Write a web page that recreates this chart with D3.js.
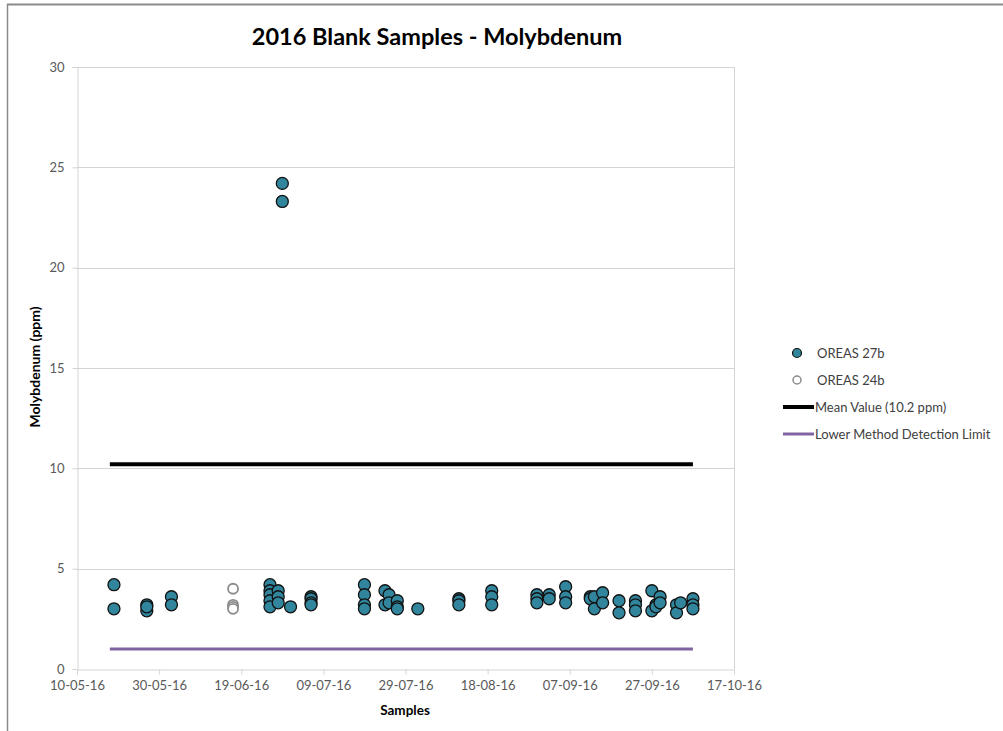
<!DOCTYPE html>
<html>
<head>
<meta charset="utf-8">
<script src="https://cdn.jsdelivr.net/npm/d3@7"></script>
<style>
  html, body { margin: 0; padding: 0; background: #fff; }
  svg { display: block; }
</style>
</head>
<body>
<svg id="chart" width="1003" height="731"></svg>
<script>
// ---- Data ----
const xTickLabels = ["10-05-16","30-05-16","19-06-16","09-07-16","29-07-16","18-08-16","07-09-16","27-09-16","17-10-16"];
const yTickValues = [0, 5, 10, 15, 20, 25, 30];

const oreas27bDates = [
  "19-05-16","19-05-16",
  "27-05-16","27-05-16","27-05-16",
  "02-06-16","02-06-16",
  "26-06-16","26-06-16","26-06-16","26-06-16","26-06-16",
  "28-06-16","28-06-16","28-06-16",
  "29-06-16","29-06-16",
  "01-07-16",
  "06-07-16","06-07-16","06-07-16","06-07-16",
  "19-07-16","19-07-16","19-07-16","19-07-16",
  "24-07-16","24-07-16",
  "25-07-16","25-07-16",
  "27-07-16","27-07-16","27-07-16",
  "01-08-16",
  "11-08-16","11-08-16","11-08-16",
  "19-08-16","19-08-16","19-08-16",
  "30-08-16","30-08-16","30-08-16",
  "02-09-16","02-09-16",
  "06-09-16","06-09-16","06-09-16",
  "12-09-16","12-09-16",
  "13-09-16","13-09-16",
  "15-09-16","15-09-16",
  "19-09-16","19-09-16",
  "23-09-16","23-09-16","23-09-16",
  "27-09-16","27-09-16",
  "28-09-16","28-09-16",
  "29-09-16","29-09-16",
  "03-10-16","03-10-16",
  "04-10-16",
  "07-10-16","07-10-16","07-10-16"
];
const oreas27bValues = [
  4.2, 3.0,
  3.2, 2.9, 3.1,
  3.6, 3.2,
  4.2, 3.9, 3.7, 3.4, 3.1,
  3.9, 3.6, 3.3,
  24.2, 23.3,
  3.1,
  3.6, 3.5, 3.3, 3.2,
  4.2, 3.7, 3.2, 3.0,
  3.9, 3.2,
  3.7, 3.3,
  3.4, 3.1, 3.0,
  3.0,
  3.5, 3.4, 3.2,
  3.9, 3.6, 3.2,
  3.7, 3.5, 3.3,
  3.7, 3.5,
  4.1, 3.6, 3.3,
  3.6, 3.5,
  3.6, 3.0,
  3.8, 3.3,
  3.4, 2.8,
  3.4, 3.2, 2.9,
  3.9, 2.9,
  3.2, 3.1,
  3.6, 3.3,
  3.2, 2.8,
  3.3,
  3.5, 3.2, 3.0
];

const oreas24bDates = ["17-06-16","17-06-16","17-06-16","17-06-16"];
const oreas24bValues = [4.0, 3.2, 3.1, 3.0];

const meanValue = 10.2;
const detectionLimit = 1.0;
const lineStartDate = "18-05-16";
const lineEndDate = "07-10-16";

const legendLabels = ["OREAS 27b", "OREAS 24b", "Mean Value (10.2 ppm)", "Lower Method Detection Limit"];

// ---- Chart ----
const parse = d3.timeParse("%d-%m-%y");
const svg = d3.select("#chart");
const font = "Lato, 'Open Sans', sans-serif";

const plot = { left: 77, right: 734, top: 67, bottom: 669 };

const x = d3.scaleTime()
  .domain([parse(xTickLabels[0]), parse(xTickLabels[xTickLabels.length - 1])])
  .range([plot.left, plot.right]);
const y = d3.scaleLinear().domain([0, 30]).range([plot.bottom, plot.top]);

// outer frame
svg.append("line").attr("x1", 7).attr("x2", 1003).attr("y1", 4.5).attr("y2", 4.5)
  .attr("stroke", "#8a8a8a").attr("stroke-width", 2);
svg.append("line").attr("x1", 7.5).attr("x2", 7.5).attr("y1", 4).attr("y2", 731)
  .attr("stroke", "#8a8a8a").attr("stroke-width", 1.5);

// title
svg.append("text").attr("x", 437).attr("y", 45).attr("text-anchor", "middle")
  .attr("font-family", font).attr("font-weight", "bold").attr("font-size", 23.5)
  .attr("fill", "#000").text("2016 Blank Samples - Molybdenum");

// gridlines
svg.append("g").selectAll("line").data(yTickValues.filter(v => v > 0)).join("line")
  .attr("x1", plot.left).attr("x2", plot.right)
  .attr("y1", d => Math.round(y(d)) + 0.5).attr("y2", d => Math.round(y(d)) + 0.5)
  .attr("stroke", "#d4d4d4").attr("stroke-width", 1);
// right border
svg.append("line").attr("x1", plot.right + 0.5).attr("x2", plot.right + 0.5)
  .attr("y1", plot.top).attr("y2", plot.bottom).attr("stroke", "#d4d4d4");

// y axis
const yAxis = d3.axisLeft(y).tickValues(yTickValues).tickSize(5).tickPadding(8).tickFormat(d3.format("d"));
const gy = svg.append("g").attr("transform", `translate(${plot.left + 0.5},0)`).call(yAxis);
gy.select(".domain").attr("stroke", "#d4d4d4");
gy.selectAll(".tick line").attr("stroke", "#d4d4d4");
gy.selectAll(".tick text").attr("font-family", font).attr("font-size", 13).attr("fill", "#595959");

// x axis
const xAxis = d3.axisBottom(x).tickValues(xTickLabels.map(parse)).tickSize(5).tickPadding(6)
  .tickFormat(d3.timeFormat("%d-%m-%y"));
const gx = svg.append("g").attr("transform", `translate(0,${plot.bottom + 0.5})`).call(xAxis);
gx.select(".domain").attr("stroke", "#d4d4d4");
gx.selectAll(".tick line").attr("stroke", "#d4d4d4");
gx.selectAll(".tick text").attr("font-family", font).attr("font-size", 13).attr("fill", "#595959");

// axis titles
svg.append("text").attr("x", 405).attr("y", 715).attr("text-anchor", "middle")
  .attr("font-family", font).attr("font-weight", "bold").attr("font-size", 13.5)
  .text("Samples");
svg.append("text").attr("transform", "translate(40,367) rotate(-90)").attr("text-anchor", "middle")
  .attr("font-family", font).attr("font-weight", "bold").attr("font-size", 14)
  .text("Molybdenum (ppm)");

// mean & detection lines
svg.append("line")
  .attr("x1", x(parse(lineStartDate))).attr("x2", x(parse(lineEndDate)))
  .attr("y1", y(meanValue)).attr("y2", y(meanValue))
  .attr("stroke", "#000").attr("stroke-width", 4);
svg.append("line")
  .attr("x1", x(parse(lineStartDate))).attr("x2", x(parse(lineEndDate)))
  .attr("y1", y(detectionLimit)).attr("y2", y(detectionLimit))
  .attr("stroke", "#8064A2").attr("stroke-width", 3);

// OREAS 24b points
svg.append("g").selectAll("circle").data(oreas24bDates.map((d, i) => [parse(d), oreas24bValues[i]])).join("circle")
  .attr("cx", d => x(d[0])).attr("cy", d => y(d[1])).attr("r", 5)
  .attr("fill", "#fff").attr("stroke", "#8c8c8c").attr("stroke-width", 1.8);

// OREAS 27b points
svg.append("g").selectAll("circle").data(oreas27bDates.map((d, i) => [parse(d), oreas27bValues[i]])).join("circle")
  .attr("cx", d => x(d[0])).attr("cy", d => y(d[1])).attr("r", 6)
  .attr("fill", "#31859C").attr("stroke", "#111").attr("stroke-width", 1.3);

// legend
const lg = svg.append("g").attr("font-family", font).attr("font-size", 13).attr("fill", "#404040");
lg.append("circle").attr("cx", 797).attr("cy", 353).attr("r", 4.5)
  .attr("fill", "#31859C").attr("stroke", "#111").attr("stroke-width", 1.2);
lg.append("text").attr("x", 817).attr("y", 357.5).text(legendLabels[0]);
lg.append("circle").attr("cx", 797).attr("cy", 380).attr("r", 4)
  .attr("fill", "#fff").attr("stroke", "#8c8c8c").attr("stroke-width", 1.5);
lg.append("text").attr("x", 817).attr("y", 384.5).text(legendLabels[1]);
lg.append("line").attr("x1", 783).attr("x2", 814).attr("y1", 407).attr("y2", 407)
  .attr("stroke", "#000").attr("stroke-width", 4);
lg.append("text").attr("x", 815).attr("y", 411.5).text(legendLabels[2]);
lg.append("line").attr("x1", 783).attr("x2", 814).attr("y1", 434).attr("y2", 434)
  .attr("stroke", "#8064A2").attr("stroke-width", 3);
lg.append("text").attr("x", 815).attr("y", 438.5).text(legendLabels[3]);
</script>
</body>
</html>
